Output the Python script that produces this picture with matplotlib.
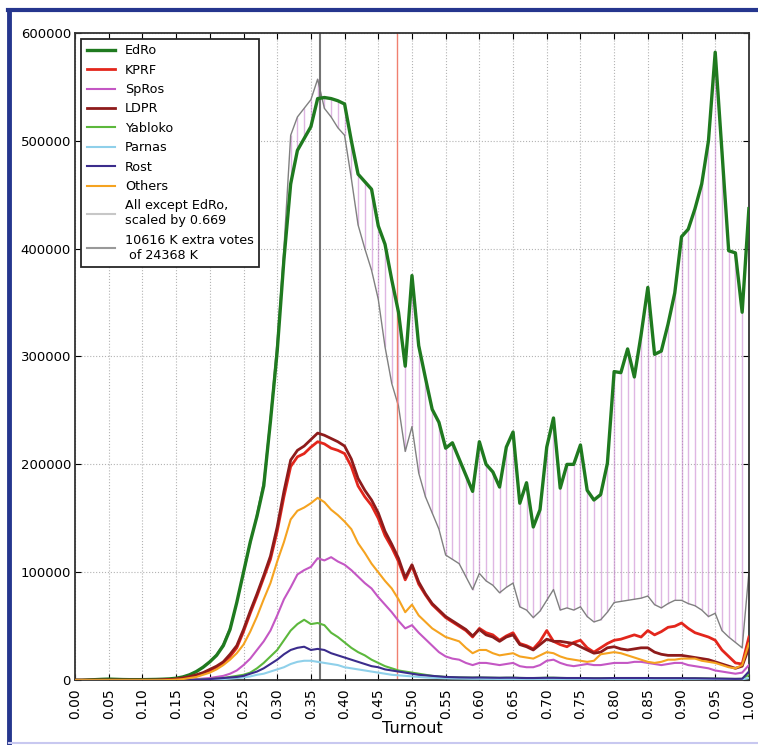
import numpy as np
import matplotlib
matplotlib.use('Agg')
from matplotlib import pyplot as plt
from matplotlib.lines import Line2D

# turnout bins, 1% wide
turnout = np.linspace(0, 1, 101)

edro = [0, 0, 300, 500, 800, 1000, 800, 600, 500, 500,
        500, 600, 700, 900, 1200, 1800, 3000, 5000, 8000, 12000,
        17000, 23000, 32000, 47000, 72000, 100000, 128000, 152000, 180000, 240000,
        305000, 390000, 460000, 491000, 502000, 513000, 539000, 540000, 539000, 537000,
        534000, 500000, 469000, 462000, 455000, 421000, 404000, 371000, 341000, 291000,
        375000, 310000, 280000, 251000, 239000, 215000, 220000, 205000, 190000, 175000,
        221000, 200000, 193000, 179000, 216000, 230000, 164000, 183000, 142000, 158000,
        216000, 243000, 178000, 200000, 200000, 218000, 176000, 167000, 172000, 201000,
        286000, 285000, 307000, 281000, 320000, 364000, 302000, 305000, 330000, 359000,
        411000, 418000, 437000, 460000, 500000, 582000, 490000, 398000, 396000, 341000,
        437000]

kprf = [0, 0, 0, 0, 0, 0, 0, 0, 0, 0,
        0, 0, 0, 200, 500, 1000, 1800, 3000, 4500, 6500,
        9000, 12000, 16000, 22000, 30000, 45000, 62000, 78000, 95000, 112000,
        138000, 170000, 198000, 207000, 210000, 216000, 221000, 219000, 215000, 213000,
        210000, 198000, 180000, 170000, 162000, 150000, 134000, 123000, 110000, 93000,
        106000, 89000, 79000, 70000, 64000, 58000, 54000, 50000, 46000, 40000,
        48000, 44000, 42000, 37000, 41000, 44000, 34000, 32000, 29000, 36000,
        46000, 36000, 33000, 31000, 35000, 37000, 30000, 26000, 30000, 34000,
        37000, 38000, 40000, 42000, 40000, 46000, 42000, 45000, 49000, 50000,
        53000, 48000, 44000, 42000, 40000, 37000, 28000, 22000, 16000, 15000,
        40000]

spros = [0, 0, 0, 0, 0, 0, 0, 0, 0, 0,
         0, 0, 0, 0, 0, 0, 200, 500, 1000, 1500,
         2000, 3000, 4000, 6000, 9000, 14000, 20000, 28000, 36000, 46000,
         60000, 75000, 86000, 98000, 102000, 105000, 113000, 111000, 114000, 110000,
         107000, 102000, 96000, 90000, 85000, 77000, 70000, 63000, 55000, 48000,
         51000, 44000, 38000, 32000, 26000, 22000, 20000, 19000, 16000, 14000,
         16000, 16000, 15000, 14000, 15000, 16000, 13000, 12000, 12000, 14000,
         18000, 19000, 16000, 14000, 13000, 14000, 15000, 14000, 14000, 15000,
         16000, 16000, 16000, 17000, 17000, 16000, 15000, 14000, 15000, 16000,
         16000, 14000, 13000, 12000, 11000, 9000, 8000, 7000, 6000, 7000,
         14000]

ldpr = [0, 0, 0, 0, 0, 0, 0, 0, 0, 0,
        0, 0, 0, 200, 500, 1000, 2000, 3200, 5000, 7000,
        10000, 13000, 17000, 24000, 32000, 47000, 64000, 80000, 97000, 115000,
        142000, 175000, 204000, 213000, 217000, 223000, 229000, 227000, 224000, 221000,
        217000, 205000, 187000, 176000, 167000, 155000, 138000, 126000, 113000, 95000,
        107000, 91000, 80000, 71000, 65000, 59000, 55000, 51000, 47000, 41000,
        47000, 42000, 40000, 36000, 40000, 42000, 33000, 31000, 28000, 33000,
        38000, 36000, 36000, 35000, 34000, 31000, 28000, 25000, 26000, 30000,
        31000, 29000, 28000, 29000, 30000, 30000, 26000, 24000, 23000, 23000,
        23000, 22000, 21000, 20000, 19000, 17000, 15000, 13000, 11000, 13000,
        30000]

yabloko = [0, 0, 0, 0, 0, 0, 0, 0, 0, 0,
           0, 0, 0, 0, 0, 0, 0, 200, 400, 700,
           1000, 1500, 2000, 3000, 4000, 5000, 7000, 11000, 16000, 22000,
           28000, 37000, 46000, 52000, 56000, 52000, 53000, 51000, 44000, 40000,
           35000, 30000, 26000, 23000, 19000, 16000, 13000, 11000, 9000, 8000,
           7000, 6000, 5000, 4000, 3500, 3000, 2800, 2600, 2500, 2400,
           2500, 2400, 2300, 2200, 2300, 2300, 2100, 2000, 2000, 2100,
           2300, 2300, 2100, 2000, 2000, 2000, 1900, 1800, 1800, 1900,
           2000, 2000, 2000, 2000, 2000, 2000, 1900, 1900, 1900, 1900,
           1900, 1800, 1800, 1700, 1600, 1500, 1400, 1300, 1200, 1300,
           5000]

parnas = [0, 0, 0, 0, 0, 0, 0, 0, 0, 0,
          0, 0, 0, 0, 0, 0, 0, 0, 200, 400,
          600, 800, 1000, 1500, 2000, 2500, 3500, 5000, 6000, 8000,
          10000, 12000, 15000, 17000, 18000, 18000, 17000, 16000, 15000, 14000,
          12000, 11000, 10000, 9000, 8000, 7000, 6000, 5000, 4500, 4000,
          3500, 3000, 2500, 2200, 2000, 1800, 1600, 1500, 1400, 1300,
          1300, 1200, 1200, 1100, 1100, 1100, 1000, 1000, 1000, 1000,
          1100, 1100, 1000, 1000, 1000, 1000, 900, 900, 900, 900,
          1000, 1000, 1000, 1000, 1000, 1000, 900, 900, 900, 900,
          900, 900, 800, 800, 800, 700, 700, 600, 600, 700,
          2000]

rost = [0, 0, 0, 0, 0, 0, 0, 0, 0, 0,
        0, 0, 0, 0, 0, 0, 0, 200, 400, 700,
        1000, 1500, 2000, 2500, 3000, 4000, 6000, 8000, 11000, 15000,
        19000, 24000, 28000, 30000, 31000, 28000, 29000, 28000, 25000, 23000,
        21000, 19000, 17000, 15000, 13000, 12000, 10000, 9000, 8000, 7000,
        6000, 5000, 4500, 4000, 3500, 3000, 2800, 2600, 2500, 2400,
        2500, 2400, 2300, 2200, 2300, 2300, 2100, 2000, 2000, 2100,
        2200, 2200, 2100, 2000, 2000, 2000, 1900, 1800, 1800, 1900,
        2000, 2000, 2000, 2000, 2000, 2000, 1900, 1900, 1900, 1900,
        1900, 1800, 1800, 1700, 1600, 1500, 1400, 1300, 1200, 1300,
        8000]

others = [0, 0, 0, 0, 0, 0, 0, 0, 0, 0,
          0, 0, 0, 0, 200, 500, 1000, 2000, 3000, 5000,
          7000, 10000, 14000, 19000, 25000, 33000, 45000, 59000, 75000, 90000,
          110000, 128000, 149000, 157000, 160000, 164000, 169000, 165000, 158000, 153000,
          147000, 140000, 127000, 118000, 108000, 100000, 92000, 85000, 75000, 63000,
          70000, 60000, 54000, 48000, 44000, 40000, 38000, 36000, 30000, 25000,
          28000, 28000, 25000, 23000, 24000, 25000, 22000, 21000, 20000, 23000,
          26000, 25000, 22000, 20000, 19000, 18000, 17000, 18000, 24000, 25000,
          26000, 25000, 23000, 21000, 19000, 17000, 16000, 17000, 19000, 19000,
          20000, 20000, 20000, 18000, 17000, 16000, 14000, 12000, 11000, 14000,
          34000]

# all parties except EdRo, scaled by 0.669
scaled = [0, 0, 300, 500, 700, 900, 800, 600, 500, 500,
          500, 600, 700, 900, 1200, 1800, 3000, 5000, 8000, 12500,
          17500, 24000, 34000, 49000, 72000, 98000, 126000, 155000, 185000, 245000,
          315000, 400000, 505000, 522000, 530000, 538000, 557000, 530000, 522000, 512000,
          505000, 465000, 422000, 400000, 380000, 353000, 309000, 275000, 254000, 212000,
          235000, 192000, 170000, 155000, 140000, 116000, 112000, 108000, 96000, 84000,
          99000, 92000, 88000, 81000, 86000, 90000, 68000, 65000, 58000, 64000,
          74000, 84000, 65000, 67000, 65000, 68000, 59000, 54000, 56000, 63000,
          72000, 73000, 74000, 75000, 76000, 78000, 70000, 67000, 71000, 74000,
          74000, 71000, 69000, 65000, 59000, 62000, 46000, 40000, 35000, 30000,
          100000]

parties = ['EdRo', 'KPRF', 'SpRos', 'LDPR', 'Yabloko', 'Parnas', 'Rost', 'Others']
series = [edro, kprf, spros, ldpr, yabloko, parnas, rost, others]
colors = ['#1f7a1f', '#e3261c', '#c457c4', '#8e1b1b', '#5cb83c', '#8fd0ea', '#3b2c8c', '#f5a320']
widths = [2.4, 2.0, 1.5, 2.0, 1.5, 1.5, 1.5, 1.5]

mean_turnout = 0.364
red_line = 0.478

fig = plt.figure(figsize=(7.58, 7.45), dpi=100)
ax = fig.add_axes([0.099, 0.087, 0.889, 0.869])

ax.vlines(turnout, scaled, edro, color='#c070c8', alpha=0.5, lw=1, zorder=1)
ax.plot(turnout, scaled, color='0.5', lw=1, zorder=2)
ax.axvline(mean_turnout, color='0.45', lw=1.5, zorder=2)
ax.axvline(red_line, color='#f08070', lw=1, zorder=2)

handles = []
for name, y, c, w in zip(parties, series, colors, widths):
    line, = ax.plot(turnout, y, color=c, lw=w, label=name, zorder=3)
    handles.append(line)

handles.append(Line2D([], [], color='0.78', lw=1.5))
handles.append(Line2D([], [], color='0.6', lw=1.5))
labels = parties + ['All except EdRo,\nscaled by 0.669', '10616 K extra votes\n of 24368 K']

ax.set_xlim(0, 1)
ax.set_ylim(0, 600000)
ax.set_xticks(np.arange(0, 1.001, 0.05))
ax.set_xticklabels(['%.2f' % t for t in np.arange(0, 1.001, 0.05)], rotation=90, fontsize=10)
ax.set_yticks(np.arange(0, 600001, 100000))
ax.set_yticklabels([str(v) for v in range(0, 600001, 100000)], fontsize=9.5)
ax.tick_params(direction='in', top=True, right=True, length=4, pad=3)
ax.tick_params(axis='x', pad=6)
ax.grid(True, linestyle=':', color='0.7', lw=0.8)
ax.set_axisbelow(True)
for s in ax.spines.values():
    s.set_linewidth(1.3)
    s.set_color('0.2')
ax.set_xlabel('Turnout', fontsize=11.5, labelpad=1)

leg = ax.legend(handles, labels, loc='upper left', fontsize=9.2, fancybox=False,
                edgecolor='0.15', framealpha=1, handlelength=2.2,
                borderaxespad=0.5, labelspacing=0.5)
leg.get_frame().set_linewidth(1.3)

# frame of the picture
fig.add_artist(Line2D([0.011, 1.0], [0.9866, 0.9866], color='#25368e', lw=3, transform=fig.transFigure))
fig.add_artist(Line2D([0.0125, 0.0125], [0.0, 0.9866], color='#25368e', lw=3.5, transform=fig.transFigure))
fig.add_artist(Line2D([0.0125, 1.0], [0.003, 0.003], color='#c8c8f0', lw=1.5, transform=fig.transFigure))

fig.savefig('out.png', dpi=100)
